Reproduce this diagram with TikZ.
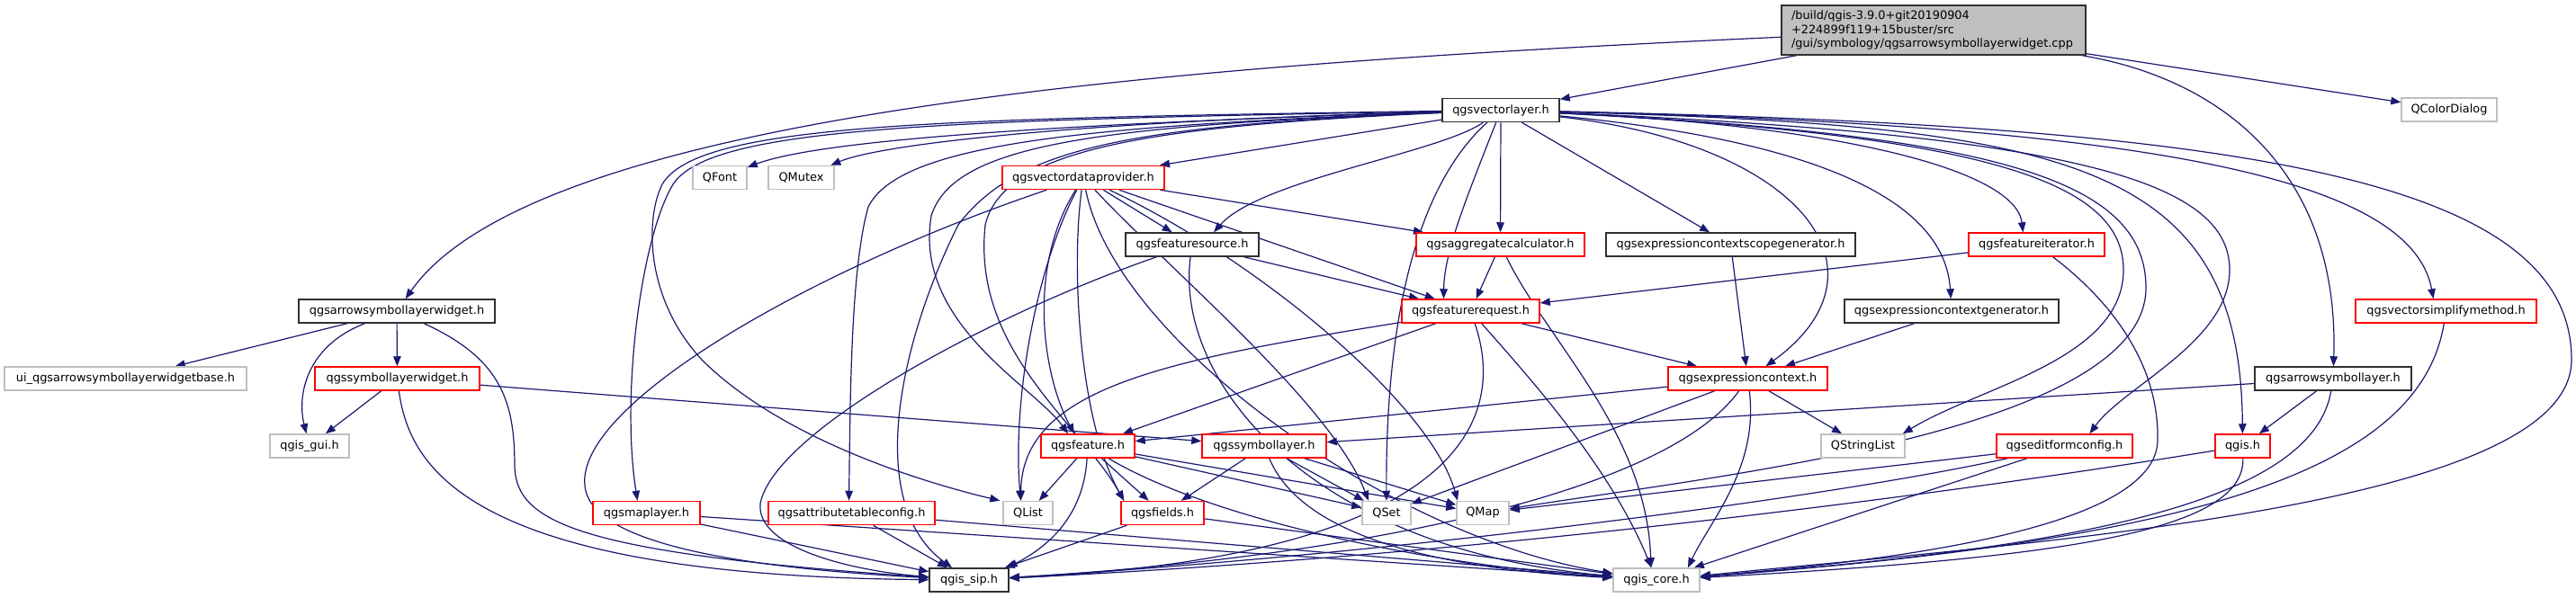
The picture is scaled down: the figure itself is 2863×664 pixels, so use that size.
\documentclass[tikz,border=0pt]{standalone}
\usepackage{fontspec}
\setmainfont{DejaVu Sans}
\usetikzlibrary{arrows.meta,calc}
\definecolor{edgeblue}{HTML}{191970}
\definecolor{nred}{HTML}{FF0000}
\definecolor{ngray}{HTML}{BFBFBF}
\definecolor{rootfill}{HTML}{BFBFBF}
\definecolor{nblack}{HTML}{303030}
\pgfdeclarelayer{bg}
\pgfsetlayers{bg,main}
\begin{document}
\begin{tikzpicture}[x=1pt,y=-1pt,
  every node/.style={font=\fontsize{12.9}{15.5}\selectfont, inner sep=0pt, minimum height=26pt, text=black},
  docnode/.style={draw=nblack, fill=white, line width=1.5pt},
  trunc/.style={draw=nred, fill=white, line width=1.5pt},
  undoc/.style={draw=ngray, fill=white, line width=1.5pt},
  rootnode/.style={draw=nblack, fill=rootfill, line width=1.5pt},
  dep/.style={draw=edgeblue, line width=1.2pt, -{Triangle[length=11pt,width=8.5pt]}}]
\useasboundingbox (0,0) rectangle (2863,664);
% nodes
\node[rootnode, minimum width=338pt, minimum height=55pt, text width=316pt, align=left] (root) at (2149,33.5) {/build/qgis-3.9.0+git20190904\\+224899f119+15buster/src\\/gui/symbology/qgsarrowsymbollayerwidget.cpp};
\node[docnode, minimum width=130pt] (qvl) at (1668,122.5) {qgsvectorlayer.h};
\node[undoc, minimum width=106pt] (QCD) at (2722,122) {QColorDialog};
\node[undoc, minimum width=60pt] (QFont) at (800,197.5) {QFont};
\node[undoc, minimum width=73pt] (QMutex) at (890.5,197.5) {QMutex};
\node[trunc, minimum width=180pt] (qvdp) at (1204,197.5) {qgsvectordataprovider.h};
\node[docnode, minimum width=148pt] (qfs) at (1325,272) {qgsfeaturesource.h};
\node[trunc, minimum width=187pt] (qac) at (1667.5,272) {qgsaggregatecalculator.h};
\node[docnode, minimum width=277pt] (qecsg) at (1923.5,272) {qgsexpressioncontextscopegenerator.h};
\node[trunc, minimum width=151pt] (qfi) at (2263.5,272) {qgsfeatureiterator.h};
\node[docnode, minimum width=218pt] (qaslw) at (441,346) {qgsarrowsymbollayerwidget.h};
\node[trunc, minimum width=153pt] (qfr) at (1634.5,346) {qgsfeaturerequest.h};
\node[docnode, minimum width=238pt] (qecg) at (2169,346) {qgsexpressioncontextgenerator.h};
\node[trunc, minimum width=201pt] (qvsm) at (2718.5,346) {qgsvectorsimplifymethod.h};
\node[undoc, minimum width=269pt] (ui) at (139.5,421) {ui\_qgsarrowsymbollayerwidgetbase.h};
\node[trunc, minimum width=183pt] (qslw) at (441.5,421) {qgssymbollayerwidget.h};
\node[trunc, minimum width=177pt] (qec) at (1942.5,421) {qgsexpressioncontext.h};
\node[docnode, minimum width=174pt] (qasl) at (2593,421) {qgsarrowsymbollayer.h};
\node[undoc, minimum width=88pt] (qgui) at (344,496) {qgis\_gui.h};
\node[trunc, minimum width=104pt] (qf) at (1209,496) {qgsfeature.h};
\node[trunc, minimum width=138pt] (qsl) at (1405,496) {qgssymbollayer.h};
\node[undoc, minimum width=93pt] (QSL) at (2070.5,496) {QStringList};
\node[trunc, minimum width=151pt] (qefc) at (2294.5,496) {qgseditformconfig.h};
\node[trunc, minimum width=61pt] (qgish) at (2492.5,496) {qgis.h};
\node[trunc, minimum width=119pt] (qml) at (718.5,570.5) {qgsmaplayer.h};
\node[trunc, minimum width=185pt] (qatc) at (946.5,570.5) {qgsattributetableconfig.h};
\node[undoc, minimum width=55pt] (QList) at (1142.5,570.5) {QList};
\node[trunc, minimum width=92pt] (qfields) at (1292,570.5) {qgsfields.h};
\node[undoc, minimum width=54pt] (QSet) at (1541,570.5) {QSet};
\node[undoc, minimum width=58pt] (QMap) at (1648,570.5) {QMap};
\node[docnode, minimum width=88pt] (sip) at (1077,645) {qgis\_sip.h};
\node[undoc, minimum width=96pt] (core) at (1841,645) {qgis\_core.h};
\begin{pgfonlayer}{bg}
% root
\draw[dep] (root) .. controls (1350,70) and (600,120) .. (qaslw);
\draw[dep] (root) -- (qvl);
\draw[dep] (root) .. controls (2480,90) and (2600,200) .. (qasl);
\draw[dep] (root) -- (QCD);
% qgsarrowsymbollayerwidget.h
\draw[dep] (qaslw) -- (ui);
\draw[dep] (qaslw) -- (qslw);
\draw[dep] (qaslw) .. controls (340,385) and (330,440) .. (qgui);
\draw[dep] (qaslw) .. controls (560,400) and (572,450) .. (572,520) .. controls (575,580) and (640,615) .. (sip);
% qgssymbollayerwidget.h
\draw[dep] (qslw) -- (qgui);
\draw[dep] (qslw) -- (qsl);
\draw[dep] (qslw) .. controls (455,520) and (520,640) .. (sip);
% qgsvectorlayer.h
\draw[dep] (qvl) .. controls (1100,140) and (900,160) .. (QFont);
\draw[dep] (qvl) .. controls (1200,135) and (980,160) .. (QMutex);
\draw[dep] (qvl) -- (qvdp);
\draw[dep] (qvl) .. controls (1600,170) and (1400,200) .. ($(qfs.north)+(24,0)$);
\draw[dep] (qvl) -- (qac);
\draw[dep] (qvl) .. controls (1630,220) and (1605,280) .. ($(qfr.north)+(-30,0)$);
\draw[dep] (qvl) -- (qecsg);
\draw[dep] (qvl) .. controls (1950,150) and (2160,200) .. (qecg);
\draw[dep] (qvl) .. controls (2050,140) and (2240,190) .. ($(qfi.north)+(-15,0)$);
\draw[dep] (qvl) .. controls (2000,160) and (2110,300) .. ($(qec.north)+(20,0)$);
\draw[dep] (qvl) .. controls (2200,150) and (2360,200) .. (2360,300) .. controls (2360,400) and (2200,430) .. ($(QSL.north east)+(-3,0)$);
\draw[dep] (qvl) .. controls (2220,150) and (2385,200) .. (2385,320) .. controls (2385,480) and (1900,530) .. (QMap);
\draw[dep] (qvl) .. controls (2300,150) and (2478,200) .. (2478,300) .. controls (2478,380) and (2360,430) .. ($(qefc.north)+(28,0)$);
\draw[dep] (qvl) .. controls (2300,140) and (2490,180) .. (qgish);
\draw[dep] (qvl) .. controls (2400,140) and (2680,200) .. ($(qvsm.north)+(-14,0)$);
\draw[dep] (qvl) .. controls (2500,140) and (2858,200) .. (2858,400) .. controls (2858,560) and (2300,600) .. (core);
\draw[dep] (qvl) .. controls (1050,134) and (790,140) .. (748,205) .. controls (712,265) and (690,440) .. ($(qml.north)+(-10,0)$);
\draw[dep] (qvl) .. controls (1030,132) and (775,138) .. (736,205) .. controls (718,240) and (715,330) .. (780,400) .. controls (860,480) and (1000,530) .. ($(QList.north west)+(-3,0)$);
\draw[dep] (qvl) .. controls (1200,140) and (1000,160) .. (965,230) .. controls (945,300) and (945,450) .. ($(qatc.north)+(-3,0)$);
\draw[dep] (qvl) .. controls (1220,140) and (1060,160) .. (1035,240) .. controls (1015,360) and (1150,430) .. ($(qf.north)+(-22,0)$);
\draw[dep] (qvl) .. controls (1280,140) and (1115,165) .. (1095,250) .. controls (1080,390) and (1200,470) .. ($(qfields.north west)+(4,0)$);
\draw[dep] (qvl) .. controls (1560,220) and (1540,400) .. (QSet);
\draw[dep] (qvl) .. controls (1250,140) and (1130,165) .. (1065,250) .. controls (1000,380) and (960,560) .. (sip);
% qgsvectordataprovider.h
\draw[dep] (qvdp) -- (qfs);
\draw[dep] (qvdp) -- (qac);
\draw[dep] (qvdp) -- (qfr);
\draw[dep] (qvdp) .. controls (1140,300) and (1160,420) .. ($(qf.north)+(-15,0)$);
\draw[dep] (qvdp) .. controls (1150,300) and (1125,450) .. ($(QList.north)+(-8,0)$);
\draw[dep] (qvdp) .. controls (1190,300) and (1200,470) .. ($(qfields.north west)+(4,0)$);
\draw[dep] (qvdp) .. controls (1300,300) and (1480,450) .. ($(QSet.north)+(-20,0)$);
\draw[dep] (qvdp) .. controls (1400,290) and (1590,450) .. ($(QMap.north)+(-28,0)$);
\draw[dep] (qvdp) .. controls (1240,380) and (1550,600) .. (core);
\draw[dep] (qvdp) .. controls (900,300) and (640,450) .. (650,540) .. controls (655,600) and (800,630) .. (sip);
% qgsfeaturesource.h
\draw[dep] (qfs) -- (qfr);
\draw[dep] (qfs) .. controls (1305,420) and (1450,610) .. (core);
\draw[dep] (qfs) .. controls (1100,350) and (860,480) .. (845,560) .. controls (840,610) and (950,635) .. (sip);
% qgsaggregatecalculator.h
\draw[dep] (qac) -- (qfr);
\draw[dep] (qac) .. controls (1720,380) and (1830,480) .. ($(core.north)+(-6,0)$);
% generators, iterator
\draw[dep] (qecsg) -- (qec);
\draw[dep] (qecg) -- (qec);
\draw[dep] (qfi) -- (qfr);
\draw[dep] (qfi) .. controls (2340,330) and (2400,400) .. (2398,490) .. controls (2396,580) and (2150,620) .. (core);
% qgsfeaturerequest.h
\draw[dep] (qfr) -- (qf);
\draw[dep] (qfr) -- (qec);
\draw[dep] (qfr) .. controls (1300,400) and (1136,430) .. ($(QList.north)+(-8,0)$);
\draw[dep] (qfr) .. controls (1680,480) and (1600,620) .. (sip);
\draw[dep] (qfr) .. controls (1700,420) and (1790,520) .. (core);
% qgsexpressioncontext.h
\draw[dep] (qec) -- (qf);
\draw[dep] (qec) -- (QSL);
\draw[dep] (qec) -- (QSet);
\draw[dep] (qec) .. controls (1850,550) and (1500,620) .. (sip);
\draw[dep] (qec) .. controls (1955,520) and (1900,580) .. ($(core.north)+(35,0)$);
% qgsarrowsymbollayer.h
\draw[dep] (qasl) -- (qsl);
\draw[dep] (qasl) -- (qgish);
\draw[dep] (qasl) .. controls (2570,560) and (2300,610) .. (core);
% qgsvectorsimplifymethod.h
\draw[dep] (qvsm) .. controls (2690,520) and (2450,600) .. (core);
% qgis.h
\draw[dep] (qgish) .. controls (2495,590) and (2300,620) .. (core);
\draw[dep] (qgish) .. controls (2100,560) and (1600,620) .. (sip);
% qgseditformconfig.h
\draw[dep] (qefc) -- (QMap);
\draw[dep] (qefc) -- (core);
\draw[dep] (qefc) .. controls (2000,560) and (1500,620) .. (sip);
% qgsfeature.h
\draw[dep] (qf) -- (QList);
\draw[dep] (qf) -- (qfields);
\draw[dep] (qf) .. controls (1205,560) and (1180,600) .. ($(sip.north east)+(-2,0)$);
\draw[dep] (qf) .. controls (1350,580) and (1600,630) .. (core);
\draw[dep] (qf) -- (QSet);
\draw[dep] (qf) -- (QMap);
% qgssymbollayer.h
\draw[dep] (qsl) -- (qfields);
\draw[dep] (qsl) -- (QSet);
\draw[dep] (qsl) -- (QMap);
\draw[dep] (qsl) .. controls (1440,580) and (1550,630) .. (core);
% bottom row
\draw[dep] (qfields) -- (sip);
\draw[dep] (qfields) -- (core);
\draw[dep] (qml) -- (sip);
\draw[dep] (qml) -- (core);
\draw[dep] (qatc) -- (sip);
\draw[dep] (qatc) -- (core);
\end{pgfonlayer}
\end{tikzpicture}
\end{document}
